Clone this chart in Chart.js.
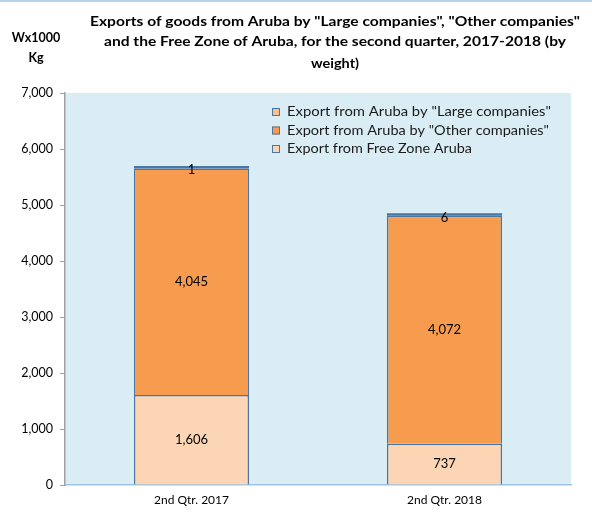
<!DOCTYPE html>
<html>
<head>
<meta charset="utf-8">
<script src="https://cdn.jsdelivr.net/npm/chart.js@4.4.0/dist/chart.umd.min.js"></script>
<style>
html,body{margin:0;padding:0;background:#fff;}
#wrap{width:592px;height:517px;position:relative;}
</style>
</head>
<body>
<div id="wrap"><canvas id="c" width="592" height="517"></canvas></div>
<script>
const categories = ["2nd Qtr. 2017", "2nd Qtr. 2018"];
const freeZone = [1606, 737];
const otherCompanies = [4045, 4072];
const largeCompanies = [1, 6];
const yTicks = [0, 1000, 2000, 3000, 4000, 5000, 6000, 7000];
const titleLines = ['Exports of goods from Aruba by "Large companies", "Other companies"', 'and the Free Zone of Aruba, for the second quarter, 2017-2018 (by', 'weight)'];
const unitLines = ['Wx1000', 'Kg'];
const seriesNames = ['Export from Free Zone Aruba', 'Export from Aruba by "Other companies"', 'Export from Aruba by "Large companies"'];

const FONT = 'Lato, "Open Sans", sans-serif';
const BORDER = '#4A76A0';
const fmt = v => v.toLocaleString('en-US');

function fitText(ctx, t, x, y, w) {
  const m = ctx.measureText(t).width;
  ctx.save();
  ctx.translate(x, y);
  ctx.scale(w / m, 1);
  ctx.fillText(t, 0, 0);
  ctx.restore();
}

const bgPlugin = {
  id: 'bg',
  beforeDraw(chart) {
    const {ctx, chartArea: a} = chart;
    ctx.save();
    ctx.fillStyle = '#DAEDF4';
    ctx.fillRect(a.left, a.top, a.right - a.left, a.bottom - a.top);
    ctx.strokeStyle = '#9DC3E6';
    ctx.lineWidth = 1.5;
    ctx.beginPath(); ctx.moveTo(0, 1); ctx.lineTo(592, 1); ctx.stroke();
    ctx.restore();
  }
};

const textPlugin = {
  id: 'texts',
  afterDraw(chart) {
    const {ctx} = chart;
    ctx.save();
    ctx.fillStyle = '#000';
    ctx.font = 'bold 13px ' + FONT;
    ctx.textAlign = 'center';
    ctx.textBaseline = 'middle';
    const ty = [22, 42, 64];
    const tw = [490, 462, 48];
    titleLines.forEach((t, i) => fitText(ctx, t, 335, ty[i], tw[i]));
    ctx.font = 'bold 12.5px ' + FONT;
    unitLines.forEach((t, i) => ctx.fillText(t, 36, [38, 58][i]));

    // data labels
    ctx.font = '13px ' + FONT;
    ctx.fillStyle = '#000';
    chart.data.datasets.forEach((ds, di) => {
      const meta = chart.getDatasetMeta(di);
      meta.data.forEach((el, i) => {
        const p = el.getProps(['x', 'y', 'base'], true);
        let y = (p.y + p.base) / 2;
        if (di === 2) y += 3;
        ctx.fillText(fmt(ds.data[i]), p.x, y);
      });
    });

    // legend
    const order = [2, 1, 0];
    const lx = 272, ly0 = 112, step = 18.5;
    ctx.textAlign = 'left';
    ctx.font = '13.5px ' + FONT;
    const lw = [264, 262, 185];
    order.forEach((di, k) => {
      const ds = chart.data.datasets[di];
      const y = ly0 + k * step;
      ctx.fillStyle = di === 2 ? '#FAC090' : ds.backgroundColor;
      ctx.fillRect(lx, y - 4, 8, 8);
      ctx.strokeStyle = BORDER;
      ctx.lineWidth = 1;
      ctx.strokeRect(lx + 0.5, y - 3.5, 7, 7);
      ctx.fillStyle = '#1a1a1a';
      fitText(ctx, ds.label, lx + 15, y, lw[k]);
    });
    ctx.restore();
  }
};

new Chart(document.getElementById('c'), {
  type: 'bar',
  data: {
    labels: categories,
    datasets: [
      {label: seriesNames[0], data: freeZone, backgroundColor: '#FCD5B5', borderColor: BORDER, borderWidth: 1.5},
      {label: seriesNames[1], data: otherCompanies, backgroundColor: '#F79B4E', borderColor: BORDER, borderWidth: 1.5},
      {label: seriesNames[2], data: largeCompanies, backgroundColor: BORDER, borderColor: BORDER, borderWidth: 0, minBarLength: 2.5}
    ]
  },
  options: {
    responsive: false,
    animation: false,
    devicePixelRatio: 1,
    layout: {padding: {top: 93, right: 21, left: 0, bottom: 0}},
    plugins: {legend: {display: false}, tooltip: {enabled: false}, title: {display: false}},
    datasets: {bar: {categoryPercentage: 0.455, barPercentage: 1}},
    scales: {
      x: {
        stacked: true,
        grid: {display: false, drawTicks: false},
        border: {color: '#9DC3E6', width: 1.5},
        ticks: {color: '#000', font: {family: FONT, size: 12}, padding: 8},
        afterFit(s) { s.height = 32; }
      },
      y: {
        stacked: true,
        min: 0, max: 7000,
        afterBuildTicks(s) { s.ticks = yTicks.map(v => ({value: v})); },
        grid: {drawOnChartArea: false, drawTicks: true, tickLength: 5, color: '#A0A0A0'},
        border: {color: '#A0A0A0', width: 1.5},
        ticks: {color: '#000', font: {family: FONT, size: 12.5}, padding: 7, callback: v => fmt(v)},
        afterFit(s) { s.width = 65; }
      }
    }
  },
  plugins: [bgPlugin, textPlugin]
});
</script>
</body>
</html>
